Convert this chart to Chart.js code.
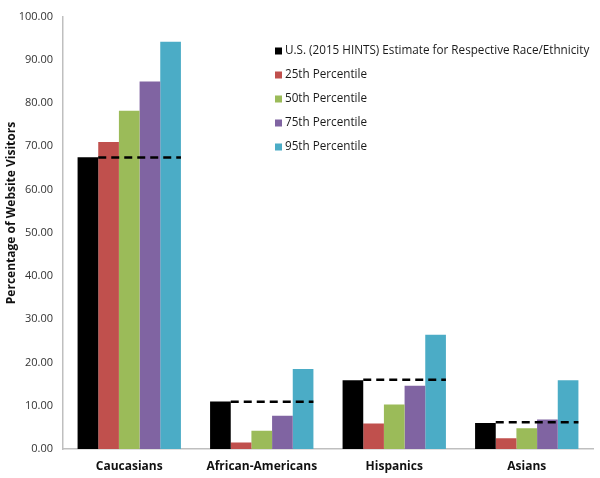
<!DOCTYPE html>
<html>
<head>
<meta charset="utf-8">
<script src="https://cdn.jsdelivr.net/npm/chart.js@4"></script>
<style>
  html, body { margin: 0; padding: 0; background: #fff; }
  #wrap { width: 600px; height: 478px; }
</style>
</head>
<body>
<div id="wrap"><canvas id="js-bar-chart"></canvas></div>
<script>
const groups = ["Caucasians", "African-Americans", "Hispanics", "Asians"];
const seriesNames = [
  "U.S. (2015 HINTS) Estimate for Respective Race/Ethnicity",
  "25th Percentile",
  "50th Percentile",
  "75th Percentile",
  "95th Percentile",
];
const usEstimate = [67.5, 11.0, 15.9, 6.0];
const p25 = [71.0, 1.5, 5.9, 2.5];
const p50 = [78.2, 4.2, 10.3, 4.8];
const p75 = [85.0, 7.7, 14.6, 6.8];
const p95 = [94.2, 18.5, 26.4, 15.9];
// dashed reference line = U.S. estimate carried across each group
const estimateLine = [67.4, 10.9, 16.0, 6.2];
const yTicks = [0, 10, 20, 30, 40, 50, 60, 70, 80, 90, 100];
const yTitle = "Percentage of Website Visitors";

const colors = ["#000000", "#C0504D", "#9BBB59", "#8064A2", "#4BACC6"];
const allSeries = [usEstimate, p25, p50, p75, p95];

const font = "'Open Sans', 'Liberation Sans', sans-serif";

// dashed line from the black bar's right edge to the last bar's right edge
const estimateDash = {
  id: "estimateDash",
  afterDatasetsDraw(chart) {
    const ctx = chart.ctx;
    const y = chart.scales.y;
    const first = chart.getDatasetMeta(0).data;
    const last = chart.getDatasetMeta(allSeries.length - 1).data;
    ctx.save();
    ctx.strokeStyle = "#000";
    ctx.lineWidth = 2.5;
    ctx.setLineDash([8, 5]);
    estimateLine.forEach((v, i) => {
      const py = y.getPixelForValue(v);
      const x0 = first[i].x + first[i].width / 2;
      const x1 = last[i].x + last[i].width / 2;
      ctx.beginPath();
      ctx.moveTo(x0, py);
      ctx.lineTo(x1, py);
      ctx.stroke();
    });
    ctx.restore();
  },
};

// legend drawn inside the plot, top right + rotated y title
const innerLegend = {
  id: "innerLegend",
  afterDraw(chart) {
    const ctx = chart.ctx;
    const left = 275;
    const top = 51;
    const step = 24;
    ctx.save();
    ctx.font = "11.7px " + font;
    ctx.textBaseline = "middle";
    chart.data.datasets.forEach((ds, i) => {
      const cy = top + i * step;
      ctx.fillStyle = ds.backgroundColor;
      ctx.fillRect(left, cy - 3.5, 7, 7);
      ctx.fillStyle = "#1a1a1a";
      ctx.fillText(ds.label, left + 10, cy);
    });

    //y axis title
    ctx.translate(12, 213);
    ctx.rotate(-Math.PI / 2);
    ctx.font = "bold 12px " + font;
    ctx.textAlign = "center";
    ctx.fillStyle = "#111";
    ctx.fillText(yTitle, 0, 0);
    ctx.restore();
  },
};

const chartEl = document.getElementById("js-bar-chart");

const myBarChart = new Chart(chartEl, {
  type: "bar",
  data: {
    labels: groups,
    datasets: allSeries.map((vals, i) => ({
      label: seriesNames[i],
      data: vals,
      backgroundColor: colors[i],
      borderWidth: 0,
      barPercentage: 1.0,
      categoryPercentage: 0.78,
    })),
  },
  options: {
    responsive: true,
    maintainAspectRatio: false,
    animation: false,
    layout: {
      padding: { top: 14, right: 7, left: 0, bottom: 0 },
    },
    plugins: {
      legend: { display: false },
      tooltip: { enabled: false },
    },
    scales: {
      x: {
        grid: { display: false, drawTicks: false },
        border: { color: "#bfbfbf", width: 1.5 },
        ticks: {
          color: "#111",
          font: { family: font, size: 12, weight: "bold" },
          padding: 10,
        },
        afterFit(scale) {
          scale.height = 29;
        },
      },
      y: {
        min: 0,
        max: 100,
        afterBuildTicks(scale) {
          scale.ticks = yTicks.map((v) => ({ value: v }));
        },
        grid: { display: false, drawTicks: false },
        border: { color: "#bfbfbf", width: 1.5 },
        ticks: {
          color: "#333",
          font: { family: font, size: 11 },
          padding: 10,
          callback: (v) => Number(v).toFixed(2),
        },
        afterFit(scale) {
          scale.width = 63;
        },
      },
    },
  },
  plugins: [estimateDash, innerLegend],
});
</script>
</body>
</html>
